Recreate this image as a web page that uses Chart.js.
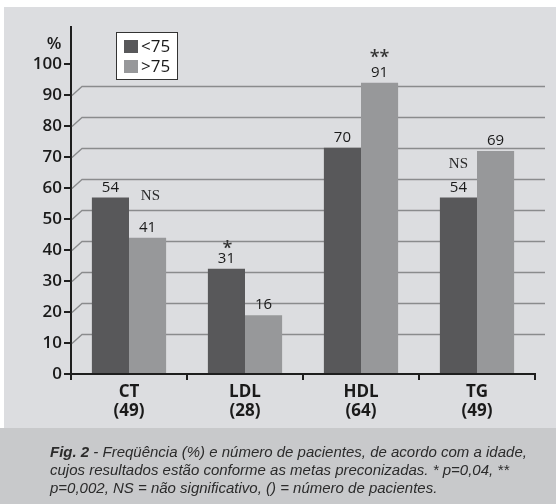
<!DOCTYPE html>
<html>
<head>
<meta charset="utf-8">
<script src="https://cdn.jsdelivr.net/npm/chart.js@4/dist/chart.umd.min.js"></script>
<style>
  html, body { margin: 0; padding: 0; background: #ffffff; }
  #wrap { width: 556px; height: 504px; position: relative; }
</style>
</head>
<body>
<div id="wrap"><canvas id="c" width="556" height="504"></canvas></div>
<script>
// ---- data ----
const categories = ["CT", "LDL", "HDL", "TG"];
const patientCounts = ["(49)", "(28)", "(64)", "(49)"];
const seriesNames = ["<75", ">75"];
const under75 = [54, 31, 70, 54];
const over75 = [41, 16, 91, 69];
const yTickLabels = [0, 10, 20, 30, 40, 50, 60, 70, 80, 90, 100];
const gridValues = [10, 20, 30, 40, 50, 60, 70, 80, 90];
const sigMarks = ["NS", "*", "**", "NS"];
const captionBold = "Fig. 2";
const captionLines = [
  " - Freqüência (%) e número de pacientes, de acordo com a idade,",
  "cujos resultados estão conforme as metas preconizadas. * p=0,04, **",
  "p=0,002, NS = não significativo, () = número de pacientes."
];

// ---- style ----
const DEPTH = 3;          // 3D depth offset of back plane, in value units
const DEPTH_X = 11;       // horizontal depth offset in px
const COL_DARK = "#58585a";
const COL_LIGHT = "#97989a";
const PANEL = "#dcdde0";
const CAPTION_BG = "#c8c9cb";
const AXIS = "#1e1e1e";
const SANS = "'Open Sans', 'Liberation Sans', sans-serif";

const sigPlacement = [
  { ds: 0, dx: 40, dy: 9, font: "15px 'Liberation Serif', 'DejaVu Serif', serif" },
  { ds: 0, dx: 1, dy: -15, font: "600 18px " + SANS },
  { ds: 1, dx: 0, dy: -20, font: "600 18px " + SANS },
  { ds: 0, dx: 0, dy: -23, font: "15px 'Liberation Serif', 'DejaVu Serif', serif" }
];

const decorPlugin = {
  id: 'decor',
  beforeDraw(chart) {
    const ctx = chart.ctx;
    ctx.save();
    ctx.fillStyle = "#ffffff";
    ctx.fillRect(0, 0, chart.width, chart.height);
    ctx.fillStyle = PANEL;
    ctx.fillRect(4, 7, chart.width - 4, 421);
    ctx.fillStyle = CAPTION_BG;
    ctx.fillRect(0, 428, chart.width, chart.height - 428);
    ctx.restore();
  },
  beforeDatasetsDraw(chart) {
    const ctx = chart.ctx;
    const y = chart.scales.y;
    const area = chart.chartArea;
    ctx.save();
    ctx.strokeStyle = "#8a8b8d";
    ctx.lineWidth = 1.3;
    gridValues.forEach(v => {
      const yb = Math.round(y.getPixelForValue(v)) + 0.5;
      const yf = Math.round(y.getPixelForValue(v - DEPTH)) + 0.5;
      ctx.beginPath();
      ctx.moveTo(area.left + 1, yf);
      ctx.lineTo(area.left + DEPTH_X, yb);
      ctx.lineTo(area.right + 10, yb);
      ctx.stroke();
    });
    ctx.restore();
  },
  afterDatasetsDraw(chart) {
    const ctx = chart.ctx;
    ctx.save();
    ctx.fillStyle = "#1a1a1a";
    ctx.textAlign = "center";
    ctx.textBaseline = "middle";
    ctx.font = "500 15px " + SANS;
    chart.data.datasets.forEach((ds, di) => {
      const meta = chart.getDatasetMeta(di);
      meta.data.forEach((bar, i) => {
        ctx.fillText(String(ds.data[i]), bar.x, bar.y - 10);
      });
    });
    // significance marks
    sigMarks.forEach((m, i) => {
      const p = sigPlacement[i];
      const bar = chart.getDatasetMeta(p.ds).data[i];
      ctx.font = p.font;
      ctx.fillStyle = m.indexOf("*") >= 0 ? "#333" : "#2a2a2a";
      const yy = bar.y - 10 + p.dy + (m.indexOf("*") >= 0 ? 5 : 0);
      ctx.fillText(m, bar.x + p.dx, yy);
    });
    ctx.restore();
  },
  afterDraw(chart) {
    const ctx = chart.ctx;
    ctx.save();
    // % label
    ctx.fillStyle = "#1a1a1a";
    ctx.font = "600 17px " + SANS;
    ctx.textAlign = "center";
    ctx.textBaseline = "middle";
    ctx.fillText("%", 54, 44);
    // legend
    ctx.fillStyle = "#ffffff";
    ctx.fillRect(116, 32, 61, 47);
    ctx.strokeStyle = "#333";
    ctx.lineWidth = 1;
    ctx.strokeRect(116.5, 32.5, 61, 47);
    chart.data.datasets.forEach((ds, i) => {
      const cy = 46 + i * 20;
      ctx.fillStyle = ds.backgroundColor;
      ctx.fillRect(124, cy - 6, 14, 13);
      ctx.fillStyle = "#1a1a1a";
      ctx.font = "500 17px " + SANS;
      ctx.textAlign = "left";
      ctx.fillText(ds.label, 141, cy + 1);
    });
    // caption
    const x0 = 50, targetW = 477;
    let size = 15;
    const fam = "'Liberation Sans', Arial, sans-serif";
    ctx.font = "bold italic " + size + "px " + fam;
    const wb = ctx.measureText(captionBold).width;
    ctx.font = "italic " + size + "px " + fam;
    const w1 = wb + ctx.measureText(captionLines[0]).width;
    size = size * targetW / w1;
    ctx.textAlign = "left";
    ctx.textBaseline = "alphabetic";
    ctx.fillStyle = "#2b2b2b";
    ctx.font = "bold italic " + size + "px " + fam;
    ctx.fillText(captionBold, x0, 457);
    const wb2 = ctx.measureText(captionBold).width;
    ctx.font = "italic " + size + "px " + fam;
    ctx.fillText(captionLines[0], x0 + wb2, 457);
    ctx.fillText(captionLines[1], x0, 475);
    ctx.fillText(captionLines[2], x0, 493);
    ctx.restore();
  }
};

new Chart(document.getElementById('c'), {
  type: 'bar',
  data: {
    labels: categories.map((c, i) => [c, patientCounts[i]]),
    datasets: [
      { label: seriesNames[0], data: under75, backgroundColor: COL_DARK, base: -DEPTH },
      { label: seriesNames[1], data: over75, backgroundColor: COL_LIGHT, base: -DEPTH }
    ]
  },
  options: {
    responsive: false,
    animation: false,
    devicePixelRatio: 1,
    layout: { padding: { top: 27, right: 21, bottom: 0, left: 0 } },
    plugins: { legend: { display: false }, tooltip: { enabled: false } },
    datasets: { bar: { categoryPercentage: 0.64, barPercentage: 1.0 } },
    scales: {
      x: {
        offset: true,
        grid: { offset: true, drawOnChartArea: false, drawTicks: true, tickLength: 6, color: AXIS, lineWidth: 2 },
        border: { display: true, color: AXIS, width: 2 },
        ticks: { color: "#1a1a1a", font: { family: SANS, size: 17, weight: 'bold', lineHeight: 1.1 }, padding: 3 },
        afterFit(scale) { scale.height = 130; }
      },
      y: {
        min: -DEPTH,
        max: 109,
        afterBuildTicks(scale) {
          scale.ticks = yTickLabels.map(v => ({ value: v - DEPTH }));
        },
        grid: { drawOnChartArea: false, drawTicks: true, tickLength: 7, color: AXIS, lineWidth: 2 },
        border: { display: true, color: AXIS, width: 2 },
        ticks: {
          color: "#1a1a1a",
          padding: 2,
          font: { family: SANS, size: 17, weight: '600' },
          callback: (val) => String(Math.round(val + DEPTH))
        },
        afterFit(scale) { scale.width = 71; }
      }
    }
  },
  plugins: [decorPlugin]
});
</script>
</body>
</html>
